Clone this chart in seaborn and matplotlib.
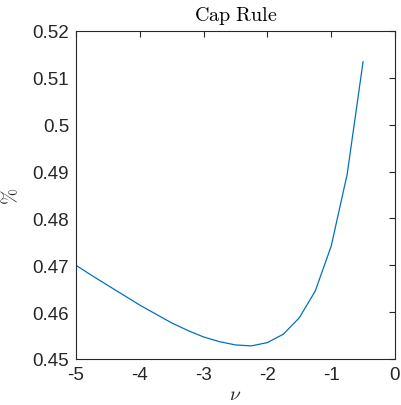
import matplotlib
matplotlib.use("Agg")
import matplotlib.pyplot as plt
import seaborn as sns
import pandas as pd

nu = [-5.0, -4.75, -4.5, -4.25, -4.0, -3.75, -3.5, -3.25, -3.0, -2.75,
      -2.5, -2.25, -2.0, -1.75, -1.5, -1.25, -1.0, -0.75, -0.5]
cap_rule = [0.4700, 0.4678, 0.4657, 0.4636, 0.4615, 0.4596, 0.4577, 0.4561,
            0.4547, 0.4537, 0.4530, 0.4528, 0.4535, 0.4553, 0.4588, 0.4645,
            0.4741, 0.4894, 0.5135]
xticks = [-5, -4, -3, -2, -1, 0]
xticklabels = ["-5", "-4", "-3", "-2", "-1", "0"]
yticks = [0.45, 0.46, 0.47, 0.48, 0.49, 0.50, 0.51, 0.52]
yticklabels = ["0.45", "0.46", "0.47", "0.48", "0.49", "0.5", "0.51", "0.52"]

df = pd.DataFrame({"nu": nu, "val": cap_rule})

sns.set_style("white")
plt.rcParams["font.family"] = ["Liberation Sans", "DejaVu Sans"]
plt.rcParams["mathtext.fontset"] = "cm"

fig = plt.figure(figsize=(4.01, 4.06), dpi=100)
ax = fig.add_axes([76 / 401, 1 - 360 / 406, (395 - 76) / 401, (360 - 32) / 406])
sns.lineplot(data=df, x="nu", y="val", ax=ax, color="#0072BD", linewidth=0.9)

ax.set_xlim(-5, 0)
ax.set_ylim(0.45, 0.52)
ax.set_xticks(xticks)
ax.set_xticklabels(xticklabels)
ax.set_yticks(yticks)
ax.set_yticklabels(yticklabels)
ax.tick_params(direction="in", length=4, width=0.8, colors="#262626",
               labelsize=13.5, top=True, right=True, pad=5)
for s in ax.spines.values():
    s.set_color("#262626")
    s.set_linewidth(0.8)
ax.set_xlabel(r"$\nu$", fontsize=14, color="#262626", labelpad=2.5)
ax.set_ylabel(r"$\%$", fontsize=14, color="#262626", labelpad=8)
ax.set_title(r"$\mathrm{Cap\ Rule}$", fontsize=14.5, color="black", pad=8)

fig.savefig("out.png", dpi=100)
